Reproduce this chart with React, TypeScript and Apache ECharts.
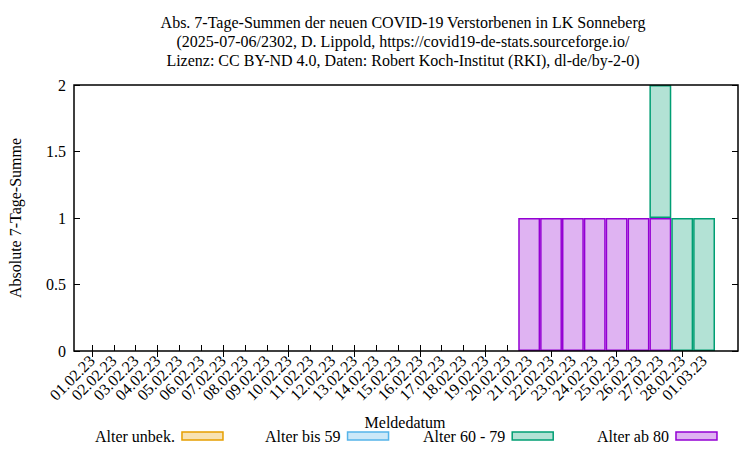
import React, { useEffect, useRef } from "react";
import * as echarts from "echarts";

const categories = [
  "01.02.23", "02.02.23", "03.02.23", "04.02.23", "05.02.23", "06.02.23", "07.02.23",
  "08.02.23", "09.02.23", "10.02.23", "11.02.23", "12.02.23", "13.02.23", "14.02.23",
  "15.02.23", "16.02.23", "17.02.23", "18.02.23", "19.02.23", "20.02.23", "21.02.23",
  "22.02.23", "23.02.23", "24.02.23", "25.02.23", "26.02.23", "27.02.23", "28.02.23",
  "01.03.23",
];
const ageUnknown = [0, 0, 0, 0, 0, 0, 0, 0, 0, 0, 0, 0, 0, 0, 0, 0, 0, 0, 0, 0, 0, 0, 0, 0, 0, 0, 0, 0, 0];
const age0to59 = [0, 0, 0, 0, 0, 0, 0, 0, 0, 0, 0, 0, 0, 0, 0, 0, 0, 0, 0, 0, 0, 0, 0, 0, 0, 0, 0, 0, 0];
const age60to79 = [0, 0, 0, 0, 0, 0, 0, 0, 0, 0, 0, 0, 0, 0, 0, 0, 0, 0, 0, 0, 0, 0, 0, 0, 0, 0, 1, 1, 1];
const age80plus = [0, 0, 0, 0, 0, 0, 0, 0, 0, 0, 0, 0, 0, 0, 0, 0, 0, 0, 0, 0, 1, 1, 1, 1, 1, 1, 1, 0, 0];
const yTicks = [0, 0.5, 1, 1.5, 2];

const FONT = "'Liberation Serif', 'Times New Roman', serif";

const seriesDefs = [
  { name: "Alter ab 80", data: age80plus, fill: "#dfb3f2", stroke: "#9400d3" },
  { name: "Alter 60 - 79", data: age60to79, fill: "#b3e2d5", stroke: "#009e73" },
  { name: "Alter bis 59", data: age0to59, fill: "#cce8f8", stroke: "#56b4e9" },
  { name: "Alter unbek.", data: ageUnknown, fill: "#f8e2b3", stroke: "#e69f00" },
];
const legendOrder = ["Alter unbek.", "Alter bis 59", "Alter 60 - 79", "Alter ab 80"];
const legendLeft = [95, 265, 423, 597];

export default function App() {
  const ref = useRef<HTMLDivElement>(null);
  useEffect(() => {
    if (!ref.current) return;
    const chart = echarts.init(ref.current, null, { renderer: "svg" });
    const textBase = { fontFamily: FONT, fontSize: 16, color: "#000" };
    const option: any = {
      animation: false,
      backgroundColor: "#fff",
      textStyle: { fontFamily: FONT },
      grid: { left: 81, right: 35, top: 85, bottom: 99, containLabel: false },
      legend: legendOrder.map((name, i) => {
        const def = seriesDefs.find((s) => s.name === name)!;
        return {
          data: [
            {
              name,
              itemStyle: { color: def.fill, borderColor: def.stroke, borderWidth: 1.5 },
            },
          ],
          left: legendLeft[i],
          top: 428,
          padding: 0,
          align: "right",
          icon: "rect",
          itemWidth: 41,
          itemHeight: 8,
          selectedMode: false,
          textStyle: { ...textBase, padding: [0, 2, 0, 0] },
        };
      }),
      xAxis: [
        {
          type: "category",
          data: categories,
          position: "bottom",
          boundaryGap: true,
          axisLine: { show: false },
          axisTick: { show: true, inside: true, length: 6, alignWithLabel: true, lineStyle: { color: "#000" } },
          axisLabel: { ...textBase, rotate: 45, interval: 0, margin: 7 },
          splitLine: { show: false },
        },
        {
          type: "category",
          data: categories,
          position: "top",
          boundaryGap: true,
          axisLine: { show: false },
          axisTick: { show: true, inside: true, length: 6, alignWithLabel: true, lineStyle: { color: "#000" } },
          axisLabel: { show: false },
          splitLine: { show: false },
        },
      ],
      yAxis: [
        {
          type: "value",
          min: 0,
          max: 2,
          interval: 0.5,
          offset: 7,
          axisLine: { show: false },
          axisTick: { show: true, inside: true, length: 6, lineStyle: { color: "#000" } },
          axisLabel: {
            ...textBase,
            margin: 8,
            formatter: (v: number) => (yTicks.includes(v) ? String(v) : ""),
          },
          splitLine: { show: false },
        },
        {
          type: "value",
          min: 0,
          max: 2,
          interval: 0.5,
          position: "right",
          offset: 23,
          axisLine: { show: false },
          axisTick: { show: true, inside: true, length: 6, lineStyle: { color: "#000" } },
          axisLabel: { show: false },
          splitLine: { show: false },
        },
      ],
      series: seriesDefs.map((s) => ({
        name: s.name,
        type: "bar",
        stack: "total",
        xAxisIndex: 0,
        yAxisIndex: 0,
        barCategoryGap: "0%",
        barGap: "0%",
        data: s.data.map((v) => (v === 0 ? "-" : v)),
        itemStyle: { color: s.fill, borderColor: s.stroke, borderWidth: 1.5 },
      })),
      graphic: [
        {
          type: "rect",
          z: 100,
          shape: { x: 74, y: 85, width: 664, height: 266 },
          style: { fill: "none", stroke: "#000", lineWidth: 1.5 },
          silent: true,
        },
        {
          type: "text",
          z: 100,
          x: 403,
          y: 41,
          style: {
            text:
              "Abs. 7-Tage-Summen der neuen COVID-19 Verstorbenen in LK Sonneberg\n(2025-07-06/2302, D. Lippold, https://covid19-de-stats.sourceforge.io/\nLizenz: CC BY-ND 4.0, Daten: Robert Koch-Institut (RKI), dl-de/by-2-0)",
            font: `16px ${FONT}`,
            fill: "#000",
            align: "center",
            verticalAlign: "middle",
            lineHeight: 19,
          },
        },
        {
          type: "text",
          z: 100,
          x: 15,
          y: 218,
          rotation: Math.PI / 2,
          style: {
            text: "Absolute 7-Tage-Summe",
            font: `16px ${FONT}`,
            fill: "#000",
            align: "center",
            verticalAlign: "middle",
          },
        },
        {
          type: "text",
          z: 100,
          x: 405,
          y: 422,
          style: {
            text: "Meldedatum",
            font: `16px ${FONT}`,
            fill: "#000",
            align: "center",
            verticalAlign: "middle",
          },
        },
      ],
    };
    chart.setOption(option);
    return () => chart.dispose();
  }, []);
  return (
    <div
      ref={ref}
      style={{ position: "fixed", left: 0, top: 0, width: 750, height: 450, background: "#fff" }}
    />
  );
}
